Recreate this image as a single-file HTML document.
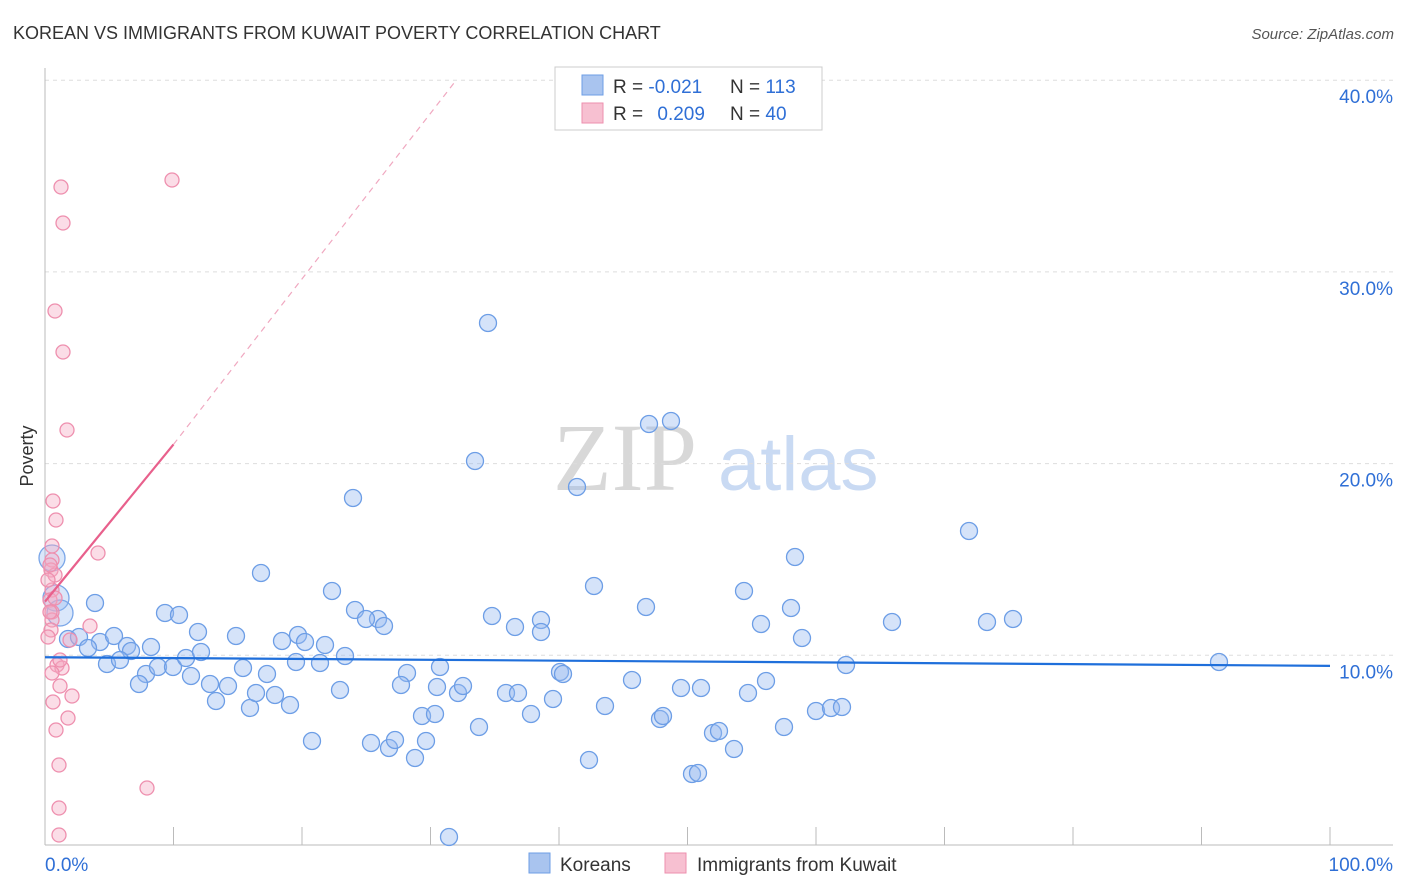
<!DOCTYPE html>
<html><head><meta charset="utf-8"><style>
body{margin:0;background:#fff;font-family:"Liberation Sans",sans-serif}
svg{display:block}
</style></head><body>
<svg id="chart" width="1406" height="892">
<text x="13" y="39" font-size="18" fill="#333">KOREAN VS IMMIGRANTS FROM KUWAIT POVERTY CORRELATION CHART</text>
<text x="1394" y="39" font-size="15" fill="#555" font-style="italic" text-anchor="end">Source: ZipAtlas.com</text>
<text x="0" y="0" font-size="18" fill="#333" transform="translate(33,456) rotate(-90)" text-anchor="middle">Poverty</text>
<g>
<text x="553" y="490" font-size="96" font-family="Liberation Serif,serif" fill="#d8d8d8">ZIP</text>
<text x="718" y="490" font-size="76" fill="#c9daf3">atlas</text>
</g>
<g id="grid"></g><g id="axes"></g><g id="pts"></g><g id="lines"></g>
<g>
<rect x="555" y="67" width="267" height="63" fill="#fff" stroke="#ccc"/>
<rect x="582" y="75" width="21" height="20" fill="#a9c4ef" stroke="#6d9ee6"/>
<rect x="582" y="103" width="21" height="20" fill="#f7c0d1" stroke="#ee8fae"/>
<text x="613" y="93" font-size="19" fill="#333">R = <tspan fill="#2f6fd6">-0.021</tspan></text>
<text x="730" y="93" font-size="19" fill="#333">N = <tspan fill="#2f6fd6">113</tspan></text>
<text x="613" y="120" font-size="19" fill="#333">R = <tspan fill="#2f6fd6" dx="9">0.209</tspan></text>
<text x="730" y="120" font-size="19" fill="#333">N = <tspan fill="#2f6fd6">40</tspan></text>
</g>
<g>
<rect x="529" y="853" width="21" height="20" fill="#a9c4ef" stroke="#6d9ee6"/>
<text x="560" y="871" font-size="19" fill="#333">Koreans</text>
<rect x="665" y="853" width="21" height="20" fill="#f7c0d1" stroke="#ee8fae"/>
<text x="697" y="871" font-size="19" fill="#333">Immigrants from Kuwait</text>
</g>
</svg>
<script>
const yTicks=[10,20,30,40];
const yTickLabels=["10.0%","20.0%","30.0%","40.0%"];
const xTickLabels=["0.0%","100.0%"];
const bluePx=[[488,323],[475,461],[577,487],[649,424],[671,421],[353,498],[969,531],[795,557],[261,573],[594,586],[744,591],[332,591],[95,603],[165,613],[179,615],[355,610],[378,619],[366,619],[384,626],[492,616],[515,627],[541,620],[541,632],[646,607],[791,608],[761,624],[892,622],[987,622],[1013,619],[802,638],[68,639],[79,637],[100,642],[114,636],[127,646],[131,651],[151,647],[198,632],[236,636],[282,641],[298,635],[305,642],[325,645],[88,648],[107,664],[120,660],[146,674],[158,667],[173,667],[186,658],[201,652],[191,676],[210,684],[228,686],[243,668],[267,674],[296,662],[320,663],[345,656],[440,667],[407,673],[560,672],[563,674],[846,665],[1219,662],[139,684],[216,701],[250,708],[256,693],[275,695],[290,705],[340,690],[401,685],[437,687],[458,693],[463,686],[506,693],[518,693],[553,699],[632,680],[681,688],[701,688],[748,693],[766,681],[312,741],[371,743],[389,748],[395,740],[415,758],[426,741],[422,716],[435,714],[479,727],[531,714],[605,706],[660,719],[663,716],[713,733],[719,731],[734,749],[784,727],[816,711],[831,708],[842,707],[589,760],[692,774],[698,773],[449,837]];
const pinkPx=[[61,187],[172,180],[63,223],[55,311],[63,352],[67,430],[53,501],[56,520],[98,553],[52,546],[52,560],[51,570],[55,575],[52,590],[50,600],[52,612],[52,620],[51,630],[90,626],[70,640],[57,665],[62,668],[52,673],[60,686],[72,696],[53,702],[68,718],[56,730],[59,765],[59,808],[59,835],[147,788],[50,565],[48,580],[55,598],[48,637],[60,660],[50,612]];
const bigBluePx=[[52,558],[56,598],[60,613]];
const X0=45,X1=1330,Y0=847,PER=19.17;
const toX=p=>(p-X0)/(X1-X0)*100, toY=p=>(Y0-p)/PER;
const koreanX=bluePx.map(p=>toX(p[0])), koreanY=bluePx.map(p=>toY(p[1]));
const kuwaitX=pinkPx.map(p=>toX(p[0])), kuwaitY=pinkPx.map(p=>toY(p[1]));
const koreanBigX=bigBluePx.map(p=>toX(p[0])), koreanBigY=bigBluePx.map(p=>toY(p[1]));
const koreanLine=[9.9,9.45]; // y at x=0 and x=100
const kuwaitLine=[12.8,21.0,40.0]; // y at x=0, x=10, x=32
const kuwaitLineX=[0,10,32];
const sx=v=>X0+v/100*(X1-X0), sy=v=>Y0-v*PER;
const NS="http://www.w3.org/2000/svg";
function mk(tag,attrs,parent){const e=document.createElementNS(NS,tag);for(const k in attrs)e.setAttribute(k,attrs[k]);parent.appendChild(e);return e;}
const grid=document.getElementById('grid'),axes=document.getElementById('axes'),pts=document.getElementById('pts'),lines=document.getElementById('lines');
yTicks.forEach((t,i)=>{
 const l=mk('line',{x1:45,x2:1393,y1:sy(t),y2:sy(t),stroke:'#ddd','stroke-dasharray':'4,4'},grid);
 
 
 const tx=mk('text',{x:1393,y:sy(t)+23,'font-size':19,fill:'#2f6fd6','text-anchor':'end'},axes);
 tx.textContent=yTickLabels[i];
 
 
});
const ax=mk('line',{x1:45,x2:45,y1:68,y2:845,stroke:'#bbb'},axes);


const bx=mk('line',{x1:45,x2:1393,y1:845,y2:845,stroke:'#bbb'},axes);


for(let i=0;i<=10;i++){const t=mk('line',{x1:sx(i*10),x2:sx(i*10),y1:827,y2:845,stroke:'#bbb'},axes);
 
 }
[[0,'start'],[100,'end']].forEach((d,i)=>{const t=mk('text',{x:i?1393:45,y:871,'font-size':19,fill:'#2f6fd6','text-anchor':d[1]},axes);t.textContent=xTickLabels[i];
 
 });
function dots(xs,ys,r,fill,stroke,name){xs.forEach((x,i)=>{const c=mk('circle',{cx:sx(x),cy:sy(ys[i]),r:r,fill:fill,stroke:stroke,'stroke-width':1.3},pts);
 
 });}
dots(koreanBigX,koreanBigY,13,'rgba(150,185,240,0.35)','#7aa6e8','korean-point-large');
dots(koreanX,koreanY,8.5,'rgba(150,185,240,0.4)','#6d9ee6','korean-point');
dots(kuwaitX,kuwaitY,7,'rgba(245,170,195,0.4)','#ee8fae','kuwait-point');
const kl=mk('line',{x1:sx(0),y1:sy(koreanLine[0]),x2:sx(100),y2:sy(koreanLine[1]),stroke:'#1f6fdb','stroke-width':2.2},lines);


const p1=mk('line',{x1:sx(kuwaitLineX[0]),y1:sy(kuwaitLine[0]),x2:sx(kuwaitLineX[1]),y2:sy(kuwaitLine[1]),stroke:'#e8608c','stroke-width':2.2},lines);


const p2=mk('line',{x1:sx(kuwaitLineX[1]),y1:sy(kuwaitLine[1]),x2:sx(kuwaitLineX[2]),y2:sy(kuwaitLine[2]),stroke:'#f0a8c0','stroke-width':1.2,'stroke-dasharray':'6,5'},lines);


</script>
</body></html>
